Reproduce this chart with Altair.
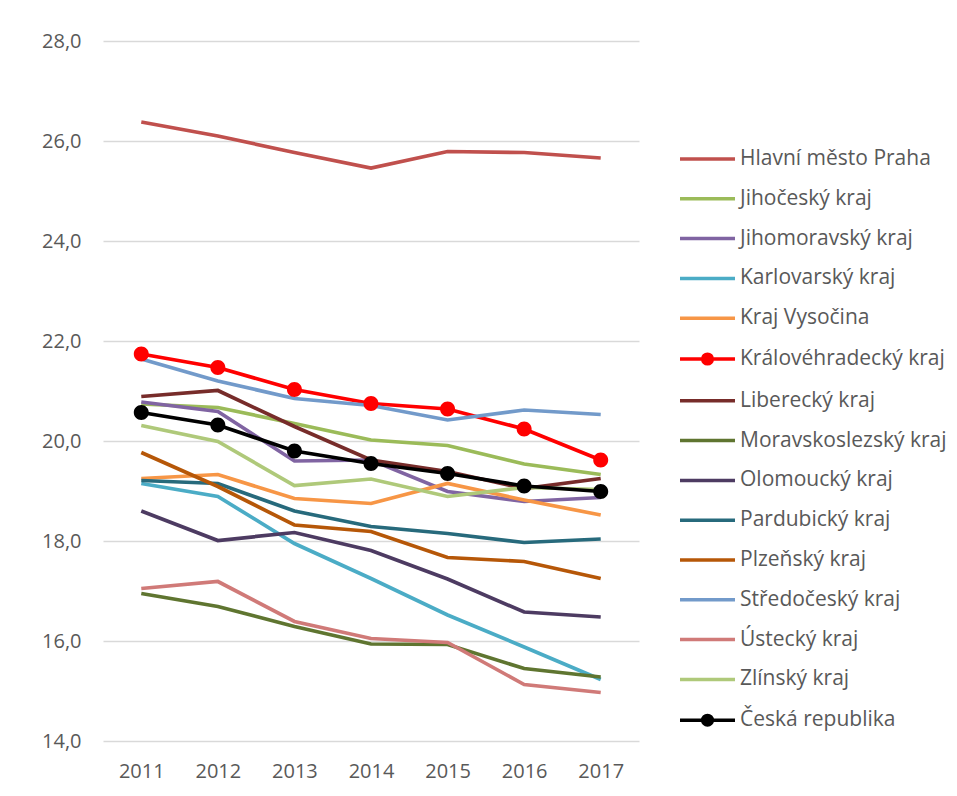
import altair as alt
import pandas as pd

years = ["2011", "2012", "2013", "2014", "2015", "2016", "2017"]

regions = [
    "Hlavní město Praha",
    "Jihočeský kraj",
    "Jihomoravský kraj",
    "Karlovarský kraj",
    "Kraj Vysočina",
    "Královéhradecký kraj",
    "Liberecký kraj",
    "Moravskoslezský kraj",
    "Olomoucký kraj",
    "Pardubický kraj",
    "Plzeňský kraj",
    "Středočeský kraj",
    "Ústecký kraj",
    "Zlínský kraj",
    "Česká republika",
]

colors = [
    "#C0504D", "#9BBB59", "#8064A2", "#4BACC6", "#F79646",
    "#FF0000", "#772C2A", "#5F7530", "#4D3B62", "#276A7C",
    "#B65708", "#729ACA", "#D07A78", "#AFC97A", "#000000",
]

praha = [26.38, 26.10, 25.77, 25.46, 25.79, 25.77, 25.66]
jihocesky = [20.74, 20.67, 20.35, 20.02, 19.91, 19.54, 19.33]
jihomoravsky = [20.78, 20.59, 19.60, 19.62, 18.99, 18.79, 18.87]
karlovarsky = [19.15, 18.89, 17.95, 17.25, 16.52, 15.88, 15.23]
vysocina = [19.25, 19.33, 18.85, 18.75, 19.15, 18.82, 18.52]
kralovehradecky = [21.74, 21.47, 21.03, 20.75, 20.64, 20.24, 19.62]
liberecky = [20.89, 21.01, 20.29, 19.62, 19.39, 19.05, 19.25]
moravskoslezsky = [16.95, 16.69, 16.29, 15.94, 15.93, 15.45, 15.28]
olomoucky = [18.60, 18.01, 18.17, 17.81, 17.24, 16.58, 16.48]
pardubicky = [19.21, 19.15, 18.60, 18.29, 18.15, 17.97, 18.04]
plzensky = [19.77, 19.09, 18.32, 18.19, 17.67, 17.59, 17.25]
stredocesky = [21.64, 21.20, 20.85, 20.71, 20.42, 20.62, 20.53]
ustecky = [17.05, 17.19, 16.39, 16.05, 15.97, 15.13, 14.97]
zlinsky = [20.31, 19.99, 19.11, 19.24, 18.89, 19.07, 19.03]
cr = [20.57, 20.32, 19.80, 19.55, 19.35, 19.10, 18.99]

series = [
    praha, jihocesky, jihomoravsky, karlovarsky, vysocina,
    kralovehradecky, liberecky, moravskoslezsky, olomoucky, pardubicky,
    plzensky, stredocesky, ustecky, zlinsky, cr,
]

marked = ["Královéhradecký kraj", "Česká republika"]

rows = []
for i, (name, vals) in enumerate(zip(regions, series)):
    for y, v in zip(years, vals):
        rows.append({"region": name, "year": y, "value": v, "order": i})
df = pd.DataFrame(rows)

FONT = "Open Sans"
TXT = "#595959"

line_path = "M-4,0L4,0"
dot_path = "M-4,0L4,0M-0.7,0A0.7,0.7 0 1,1 0.7,0A0.7,0.7 0 1,1 -0.7,0Z"
shapes = [dot_path if r in marked else line_path for r in regions]

legend = alt.Legend(
    title=None,
    orient="none",
    legendX=594,
    legendY=107.5,
    symbolSize=189,
    symbolStrokeWidth=3.5,
    labelOffset=22,
    rowPadding=17.8,
    labelFontSize=21,
    labelFont=FONT,
    labelColor=TXT,
    labelLimit=320,
    padding=0,
)

xenc = alt.X(
    "year:O",
    scale=alt.Scale(type="point", padding=0.5),
    axis=alt.Axis(
        title=None, labelAngle=0, ticks=False, domain=False, grid=False,
        labelFontSize=20, labelFont=FONT, labelColor=TXT, labelPadding=20,
    ),
)
yenc = alt.Y(
    "value:Q",
    scale=alt.Scale(domain=[14, 28], nice=False, zero=False),
    axis=alt.Axis(
        title=None, values=[14, 16, 18, 20, 22, 24, 26, 28],
        labelExpr="replace(format(datum.value, '.1f'), '.', ',')",
        ticks=False, domain=False, grid=True,
        gridColor="#D9D9D9", gridWidth=1.3,
        labelFontSize=20, labelFont=FONT, labelColor=TXT, labelPadding=22,
    ),
)
cenc = alt.Color("region:N", scale=alt.Scale(domain=regions, range=colors), legend=legend)

lines = alt.Chart(df).mark_line(strokeWidth=3.7).encode(
    x=xenc, y=yenc, color=cenc, order=alt.Order("order:Q")
)
points = alt.Chart(df).mark_point(filled=True, size=459, opacity=1, strokeWidth=0).encode(
    x=xenc, y=yenc, color=cenc,
    shape=alt.Shape("region:N", scale=alt.Scale(domain=regions, range=shapes), legend=legend),
)

chart = alt.layer(lines, points).properties(
    width=536,
    height=700,
    autosize=alt.AutoSizeParams(type="none"),
    padding={"left": 95, "top": 33, "right": 310, "bottom": 45},
).configure_view(stroke=None)

chart.save("out.html", embed_options={"renderer": "svg", "actions": False})
